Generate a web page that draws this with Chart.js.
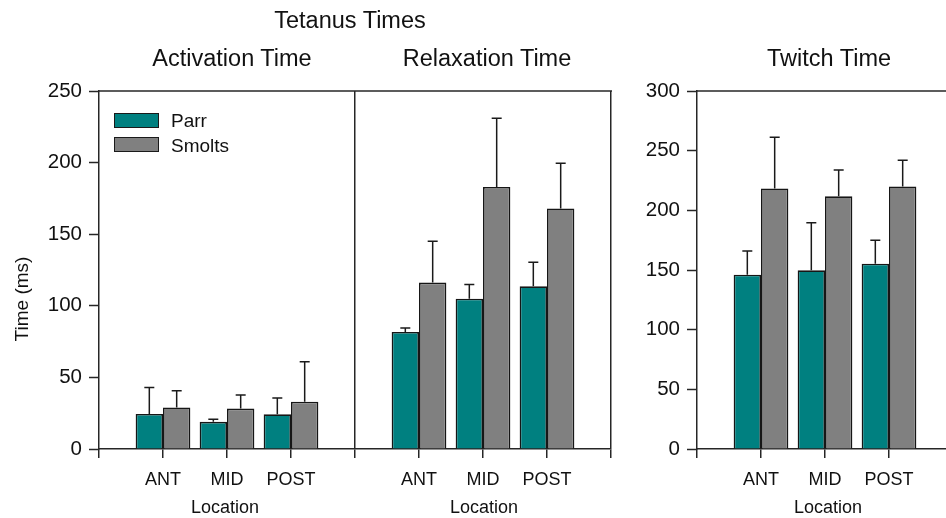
<!DOCTYPE html>
<html><head><meta charset="utf-8">
<script src="https://cdn.jsdelivr.net/npm/chart.js@4.4.1/dist/chart.umd.min.js"></script>
<style>
html,body{margin:0;padding:0;width:946px;height:518px;overflow:hidden;background:#fff;font-family:"Liberation Sans",Arial,sans-serif;color:#111;}
body{position:relative;}
.t{position:absolute;white-space:nowrap;transform:translateX(-50%);line-height:1;}
#c1{position:absolute;left:0;top:0;}
#c2{position:absolute;left:612px;top:0;}
.box{position:absolute;left:114px;width:43px;height:13px;border:1.5px solid #1a1a1a;}
.lt{position:absolute;left:171px;font-size:19px;line-height:1;white-space:nowrap;}
</style></head><body>
<canvas id="c1" width="613" height="518"></canvas>
<canvas id="c2" width="341" height="518"></canvas>
<div class="t" style="left:350px;top:9px;font-size:23.5px">Tetanus Times</div>
<div class="t" style="left:232px;top:47px;font-size:23.5px">Activation Time</div>
<div class="t" style="left:487px;top:47px;font-size:23.5px">Relaxation Time</div>
<div class="t" style="left:829px;top:47px;font-size:23.5px">Twitch Time</div>
<div class="t" style="left:225px;top:498px;font-size:18px">Location</div>
<div class="t" style="left:484px;top:498px;font-size:18px">Location</div>
<div class="t" style="left:828px;top:498px;font-size:18px">Location</div>
<div class="box" style="top:113px;background:#008080"></div>
<div class="box" style="top:137px;background:#808080"></div>
<div class="lt" style="top:111px">Parr</div>
<div class="lt" style="top:135.5px">Smolts</div>
<script>
// ---- data (ms) ----
const locations = ['ANT', 'MID', 'POST'];
const seriesNames = ['Parr', 'Smolts'];
const activationParr = [24.5, 19.0, 24.2];
const activationParrSD = [18.5, 1.7, 11.4];
const activationSmolts = [29.0, 28.2, 33.0];
const activationSmoltsSD = [11.7, 9.5, 28.0];
const relaxationParr = [81.7, 105.0, 113.6];
const relaxationParrSD = [2.8, 9.8, 16.8];
const relaxationSmolts = [116.2, 183.0, 168.0];
const relaxationSmoltsSD = [28.8, 48.0, 31.5];
const twitchParr = [146.0, 149.7, 155.3];
const twitchParrSD = [20.0, 39.9, 19.7];
const twitchSmolts = [218.4, 211.7, 220.0];
const twitchSmoltsSD = [42.9, 22.1, 22.0];
const tetanusTicks = [0, 50, 100, 150, 200, 250];
const twitchTicks = [0, 50, 100, 150, 200, 250, 300];
const yAxisTitle = 'Time (ms)';

const FONT = '"Liberation Sans", Arial, sans-serif';
const AX = '#262626';
const colors = ['#008080', '#808080'];

const errorBars = {
  id: 'errorBars',
  afterDatasetsDraw(chart) {
    const ctx = chart.ctx, y = chart.scales.y;
    chart.data.datasets.forEach((ds, i) => {
      const meta = chart.getDatasetMeta(i);
      meta.data.forEach((bar, j) => {
        const v = ds.data[j], e = ds.errors[j];
        if (v == null || e == null) return;
        const top = y.getPixelForValue(v + e);
        ctx.save();
        ctx.strokeStyle = '#1a1a1a'; ctx.lineWidth = 1.5;
        ctx.beginPath();
        ctx.moveTo(bar.x, bar.y); ctx.lineTo(bar.x, top);
        ctx.moveTo(bar.x - 5, top); ctx.lineTo(bar.x + 5, top);
        ctx.stroke();
        ctx.restore();
      });
    });
  }
};
const topFrame = {
  id: 'topFrame',
  afterDraw(chart) {
    const a = chart.chartArea, ctx = chart.ctx;
    ctx.save(); ctx.strokeStyle = AX; ctx.lineWidth = 1.5;
    ctx.beginPath(); ctx.moveTo(a.left, a.top); ctx.lineTo(a.right + 1, a.top); ctx.stroke();
    ctx.restore();
  }
};
const yTitle = {
  id: 'yTitle',
  afterDraw(chart, args, opts) {
    if (!opts.text) return;
    const ctx = chart.ctx;
    ctx.save();
    ctx.translate(opts.x, opts.y);
    ctx.rotate(-Math.PI / 2);
    ctx.font = '19px ' + FONT;
    ctx.fillStyle = '#111';
    ctx.textAlign = 'center';
    ctx.textBaseline = 'middle';
    ctx.fillText(opts.text, 0, 0);
    ctx.restore();
  }
};

function makeChart(id, labels, dsData, ticksArr, yWidth, dividers, title, padRight) {
  return new Chart(document.getElementById(id), {
    type: 'bar',
    data: {
      labels: labels,
      datasets: dsData.map((d, i) => ({
        label: seriesNames[i],
        data: d.v, errors: d.e,
        backgroundColor: colors[i], borderColor: '#161616', borderWidth: 1.6,
        categoryPercentage: 0.855, barPercentage: 1
      }))
    },
    options: {
      responsive: false, animation: false, devicePixelRatio: 1,
      layout: { padding: { top: 91, left: 0, right: padRight, bottom: 0 } },
      plugins: {
        legend: { display: false }, tooltip: { enabled: false },
        yTitle: { text: title, x: 23, y: 299 }
      },
      scales: {
        x: {
          type: 'category', offset: false,
          grid: {
            offset: false, drawOnChartArea: true,
            color: c => dividers.includes(c.index) ? AX : 'rgba(0,0,0,0)',
            lineWidth: 1.5, tickLength: 9, tickColor: AX, tickWidth: 1.5
          },
          border: { display: true, color: AX, width: 1.5 },
          ticks: { font: { size: 18, family: FONT }, color: '#111', padding: 11, maxRotation: 0, autoSkip: false },
          afterFit(s) { s.height = 69; s.paddingLeft = 0; s.paddingRight = 0; }
        },
        y: {
          min: ticksArr[0], max: ticksArr[ticksArr.length - 1],
          afterBuildTicks(s) { s.ticks = ticksArr.map(v => ({ value: v })); },
          grid: { drawOnChartArea: false, tickLength: 10, tickColor: AX, tickWidth: 1.5 },
          border: { display: true, color: AX, width: 1.5 },
          ticks: { font: { size: 20.5, family: FONT }, color: '#111', padding: 7 },
          afterFit(s) { s.width = yWidth; }
        }
      }
    },
    plugins: [errorBars, topFrame, yTitle]
  });
}

makeChart('c1',
  ['', ...locations, '', ...locations, ''],
  [
    { v: [null, ...activationParr, null, ...relaxationParr, null], e: [null, ...activationParrSD, null, ...relaxationParrSD, null] },
    { v: [null, ...activationSmolts, null, ...relaxationSmolts, null], e: [null, ...activationSmoltsSD, null, ...relaxationSmoltsSD, null] }
  ],
  tetanusTicks, 99, [4, 8], yAxisTitle, 2);

makeChart('c2',
  ['', ...locations, ''],
  [
    { v: [null, ...twitchParr, null], e: [null, ...twitchParrSD, null] },
    { v: [null, ...twitchSmolts, null], e: [null, ...twitchSmoltsSD, null] }
  ],
  twitchTicks, 85, [], '', 0);
</script>
</body></html>
